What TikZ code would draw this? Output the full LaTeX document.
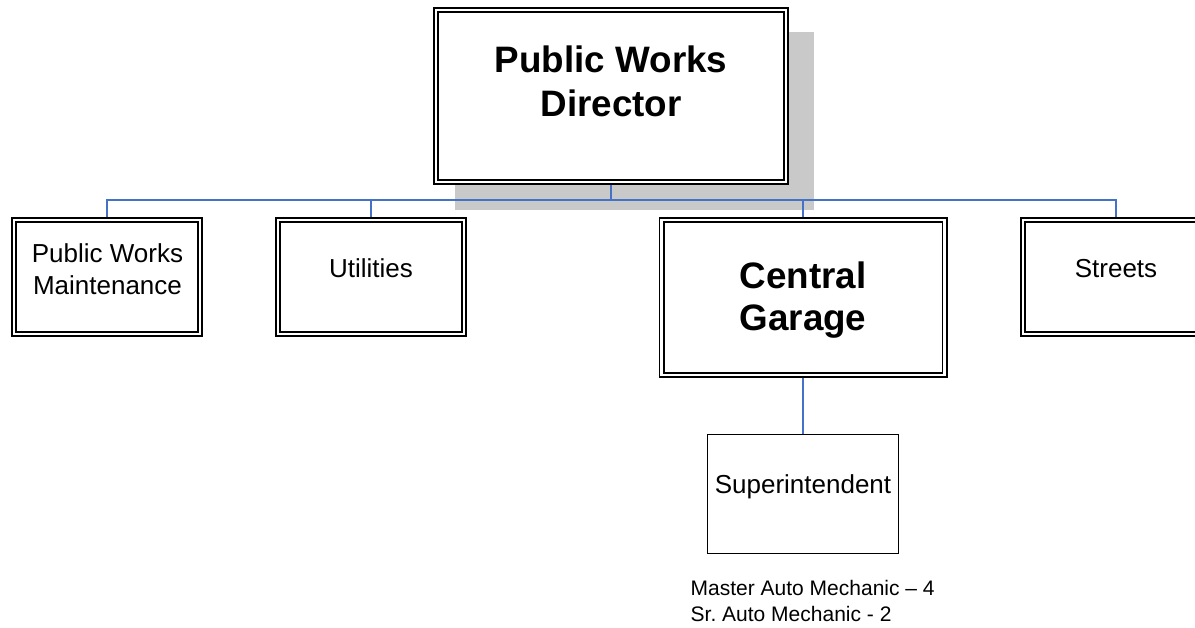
\documentclass[tikz,border=0pt]{standalone}
\usepackage{fontspec}
\setmainfont{Liberation Sans}
\frenchspacing
\definecolor{connblue}{HTML}{4472C4}
\definecolor{shadowgray}{HTML}{C9C9C9}
\tikzset{
  dbox/.style={draw=black, line width=1.6pt, double=white, double distance=2.8pt,
    fill=white, inner sep=0pt, outer sep=3pt, rectangle},
  sbox/.style={draw=black, line width=1.3pt, fill=white, inner sep=0pt, outer sep=0.65pt, rectangle},
  conn/.style={draw=connblue, line width=1.6pt},
  bigtxt/.style={anchor=base, inner sep=0pt, font=\fontsize{36.8}{43}\selectfont\bfseries},
  midtxt/.style={anchor=base, inner sep=0pt, font=\fontsize{26}{31}\selectfont},
  smalltxt/.style={anchor=base west, inner sep=0pt, font=\fontsize{21}{26}\selectfont}
}
\begin{document}
\begin{tikzpicture}[x=1pt,y=-1pt]
\useasboundingbox (0,0) rectangle (1195,627);
\clip (0,0) rectangle (1195,627);
% shadow of the director box
\fill[shadowgray] (455,32) rectangle (814,210);
% boxes
\node[dbox, minimum width=350pt, minimum height=172pt] (dir) at (611,96) {};
\node[dbox, minimum width=186pt, minimum height=114pt] (pwm) at (107,277) {};
\node[dbox, minimum width=186pt, minimum height=114pt] (util) at (371,277) {};
\node[dbox, minimum width=283pt, minimum height=155pt] (cg) at (803,297.5) {};
\node[dbox, minimum width=186pt, minimum height=114pt] (streets) at (1116,277) {};
\node[sbox, minimum width=190.7pt, minimum height=118.7pt] (sup) at (803,494) {};
% connectors
\coordinate (bus) at (611,200);
\draw[conn] (dir.south) -- (bus);
\draw[conn] (pwm.north) |- (bus) -| (streets.north);
\draw[conn] (util.north) -- (util.north |- bus);
\draw[conn] (cg.north) -- (cg.north |- bus);
\draw[conn] (cg.south) -- (sup.north);
% texts
\node[bigtxt] (dirt1) at (611,72) {Public Works};
\node[bigtxt] (dirt2) at (611,116.5) {Director};
\node[midtxt] (pwmt1) at (107.5,262.5) {Public Works};
\node[midtxt] (pwmt2) at (107.5,294) {Maintenance};
\node[midtxt] (utilt) at (371,277.3) {Utilities};
\node[bigtxt] (cgt1) at (803,288) {Central};
\node[bigtxt] (cgt2) at (803,330) {Garage};
\node[midtxt] (streetst) at (1116,277.3) {Streets};
\node[midtxt] (supt) at (803,493) {Superintendent};
\node[smalltxt] (note1) at (690.5,595.5) {Master Auto Mechanic – 4};
\node[smalltxt] (note2) at (690.5,621.5) {Sr.\ Auto Mechanic - 2};
\end{tikzpicture}
\end{document}
